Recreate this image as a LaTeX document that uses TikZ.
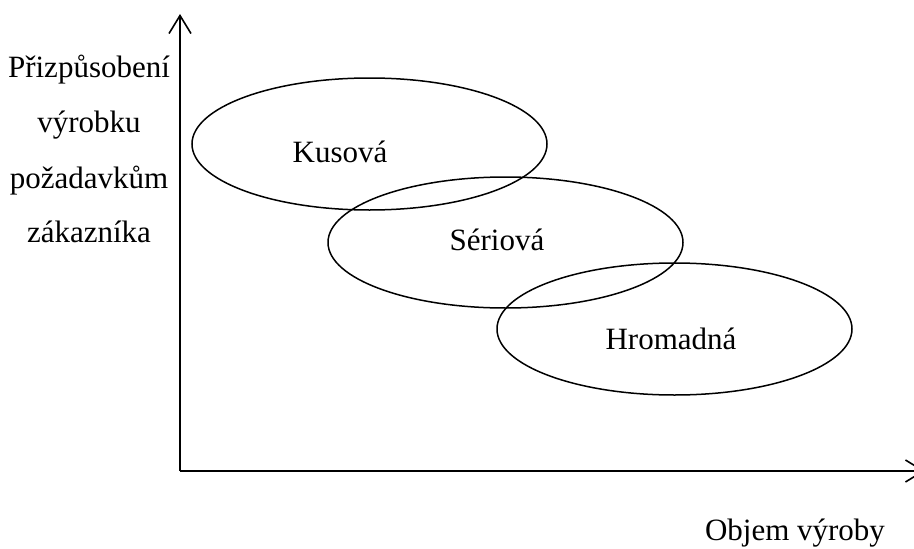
\documentclass[tikz,border=0pt]{standalone}
\usepackage{fontspec}
\setmainfont{Liberation Serif}
\usetikzlibrary{arrows.meta}
\tikzset{
  axis/.style={line width=1.6pt, -{Straight Barb[length=18pt,width=22pt,line width=1.6pt]}},
  oval/.style={line width=1.5pt},
  lbl/.style={font=\fontsize{31}{36}\selectfont, inner sep=0pt, anchor=base},
}
\begin{document}
\begin{tikzpicture}[x=1pt,y=-1pt]
\useasboundingbox (0,0) rectangle (914,549);
\coordinate (O) at (180,471);
\coordinate (Ytop) at (180,14);
\coordinate (Xend) at (925,471);
\draw[axis] (O) -- (Ytop);
\draw[axis] (O) -- (Xend);
\draw[oval] (369.5,144) ellipse [x radius=177.5, y radius=66];
\draw[oval] (505.5,242.5) ellipse [x radius=177.5, y radius=65.5];
\draw[oval] (674.5,329) ellipse [x radius=177.5, y radius=66];
\node[lbl] (kus) at (340,162) {Kusová};
\node[lbl] (ser) at (497,250) {Sériová};
\node[lbl] (hro) at (671,349) {Hromadná};
\node[lbl] (x) at (795,540) {Objem výroby};
\node[lbl] (y1) at (89,77) {Přizpůsobení};
\node[lbl] (y2) at (89,132) {výrobku};
\node[lbl] (y3) at (89,188) {požadavkům};
\node[lbl] (y4) at (89,242) {zákazníka};
\end{tikzpicture}
\end{document}
